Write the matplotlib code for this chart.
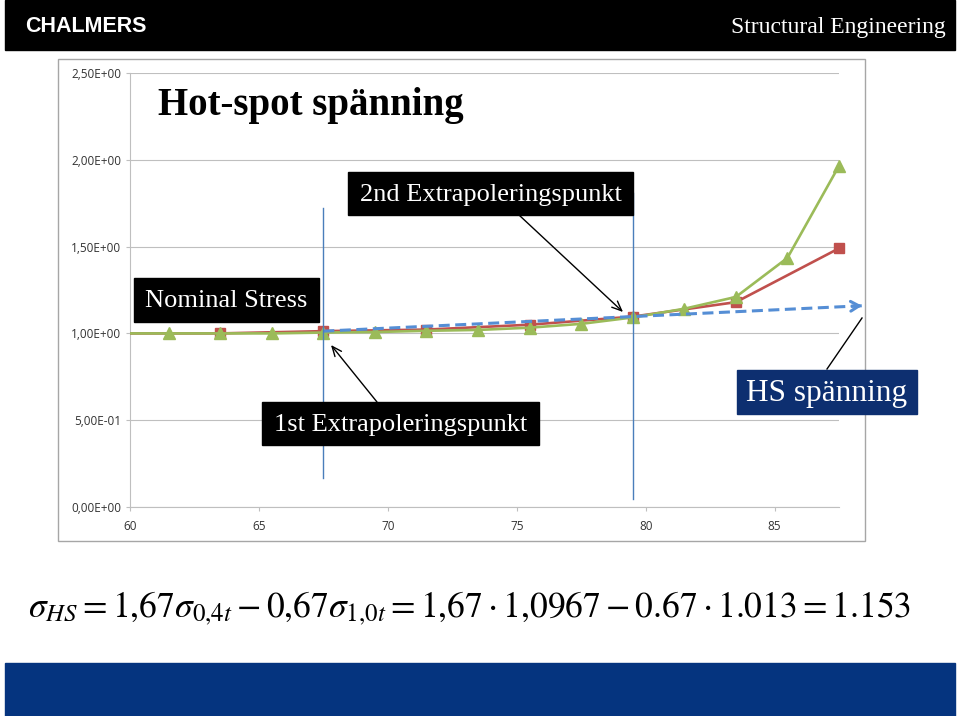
import matplotlib
matplotlib.use("Agg")
import matplotlib.pyplot as plt
from matplotlib.patches import Rectangle

plt.rcParams["mathtext.fontset"] = "stix"

# ── data ───────────────────────────────────────────────────────────────
red_x = [59.5, 63.5, 67.5, 71.5, 75.5, 79.5, 83.5, 87.5]
red_y = [1.0, 1.0, 1.013, 1.022, 1.05, 1.0967, 1.18, 1.49]

green_x = [59.5, 61.5, 63.5, 65.5, 67.5, 69.5, 71.5, 73.5, 75.5, 77.5,
           79.5, 81.5, 83.5, 85.5, 87.5]
green_y = [1.0, 1.0, 1.0, 1.0, 1.005, 1.008, 1.015, 1.02, 1.033, 1.055,
           1.092, 1.142, 1.21, 1.435, 1.965]

# linear extrapolation through the two read-out points -> hot-spot stress
hs_x = [67.5, 88.5]
hs_y = [1.013, 1.160]

# read-out positions (vertical marker lines) and their drawn extents
mark_x = [67.5, 79.5]
mark_top = [1.72, 1.81]
mark_bot = [0.167, 0.046]

x_ticks = [60, 65, 70, 75, 80, 85]
y_ticks = [0.0, 0.5, 1.0, 1.5, 2.0, 2.5]
y_labels = ["0,00E+00", "5,00E-01", "1,00E+00", "1,50E+00", "2,00E+00",
            "2,50E+00"]

RED, GREEN, BLUE, DASH = "#c0504d", "#9bbb59", "#4a7ebb", "#558ed5"
NAVY, BAND, GRID = "#0d2f70", "#05347f", "#bfbfbf"
SERIF = ["Liberation Serif", "DejaVu Serif"]

W, H = 960, 716
fig = plt.figure(figsize=(W / 100, H / 100), dpi=100)

# slide background axes in pixel coordinates
bg = fig.add_axes([0, 0, 1, 1])
bg.set_xlim(0, W)
bg.set_ylim(H, 0)
bg.axis("off")

bg.add_patch(Rectangle((5, 0), 950, 50, color="black", zorder=1))
bg.text(25, 26, "CHALMERS", color="white", fontsize=15.5, fontweight="bold",
        family="Liberation Sans", ha="left", va="center")
bg.text(946, 28, "Structural Engineering", color="white", fontsize=17,
        family=SERIF, ha="right", va="center")
bg.add_patch(Rectangle((5, 663), 950, 53, color=BAND, zorder=1))
bg.add_patch(Rectangle((58, 59), 807, 482, facecolor="white",
                       edgecolor="#a6a6a6", lw=1.0, zorder=1))

# ── chart ──────────────────────────────────────────────────────────────
ax = fig.add_axes([130 / W, (H - 507) / H, (839 - 130) / W, (507 - 73) / H])
ax.set_facecolor("none")
ax.set_xlim(60, 87.5)
ax.set_ylim(0, 2.5)
ax.set_xticks(x_ticks)
ax.set_yticks(y_ticks)
ax.set_yticklabels(y_labels)
ax.tick_params(colors=GRID, labelcolor="#333333", labelsize=8.5, length=3,
               width=0.8)
for lab in ax.get_xticklabels() + ax.get_yticklabels():
    lab.set_family("Open Sans")
ax.tick_params(axis="x", pad=6)
for side in ("top", "right"):
    ax.spines[side].set_visible(False)
for side in ("left", "bottom"):
    ax.spines[side].set_color(GRID)
    ax.spines[side].set_linewidth(0.8)
ax.grid(axis="y", color=GRID, lw=0.8)
ax.set_axisbelow(True)

# lines clipped to the plot area, markers left unclipped so the last ones show
ax.plot(red_x, red_y, color=RED, lw=1.9, zorder=3)
ax.plot(red_x[1:], red_y[1:], ls="none", color=RED, marker="s", ms=7,
        zorder=3, clip_on=False)
ax.plot(green_x, green_y, color=GREEN, lw=1.9, zorder=4)
ax.plot(green_x[1:], green_y[1:], ls="none", color=GREEN, marker="^", ms=8.5,
        zorder=4, clip_on=False)
ax.plot(hs_x, hs_y, color=DASH, lw=2.2, ls=(0, (3.6, 1.8)), zorder=5,
        clip_on=False)
ax.annotate("", xy=(hs_x[1], hs_y[1]), xytext=(hs_x[1] - 0.6, hs_y[1] - 0.004),
            arrowprops=dict(arrowstyle="->,head_length=0.6,head_width=0.35",
                            color=DASH, lw=2.2), annotation_clip=False,
            zorder=5)
for mx, t, b in zip(mark_x, mark_top, mark_bot):
    ax.plot([mx, mx], [b, t], color=BLUE, lw=1.0, zorder=6, clip_on=False)

# ── slide annotations (pixels) ─────────────────────────────────────────
bg2 = fig.add_axes([0, 0, 1, 1])
bg2.set_xlim(0, W)
bg2.set_ylim(H, 0)
bg2.axis("off")

bg2.text(158, 106, "Hot-spot spänning", fontsize=28, fontweight="bold",
         family=SERIF, ha="left", va="center")


def label(x0, y0, x1, y1, text, fc="black", size=19):
    bg2.add_patch(Rectangle((x0, y0), x1 - x0, y1 - y0, color=fc, zorder=3))
    bg2.text((x0 + x1) / 2, (y0 + y1) / 2 + 1, text, color="white",
             fontsize=size, family=SERIF, ha="center", va="center", zorder=4)


label(348, 172, 633, 215, "2nd Extrapoleringspunkt")
label(134, 278, 319, 322, "Nominal Stress")
label(262, 402, 539, 445, "1st Extrapoleringspunkt")
label(737, 370, 917, 414, "HS spänning", fc=NAVY, size=22.5)

arrow = dict(arrowstyle="->,head_length=0.7,head_width=0.3", color="black",
             lw=1.0, shrinkA=0, shrinkB=0)
bg2.annotate("", xy=(623, 312), xytext=(519, 215), arrowprops=arrow)
bg2.annotate("", xy=(331, 345), xytext=(377, 402), arrowprops=arrow)
bg2.plot([827, 862], [369, 318], color="black", lw=1.0)

bg2.text(28, 608,
         r"$\sigma_{HS} = 1{,}67\sigma_{0{,}4t} - 0{,}67\sigma_{1{,}0t}"
         r" = 1{,}67\cdot 1{,}0967 - 0.67\cdot 1.013 = 1.153$",
         fontsize=25.6, ha="left", va="center")

fig.savefig("out.png", dpi=100, facecolor="white")
